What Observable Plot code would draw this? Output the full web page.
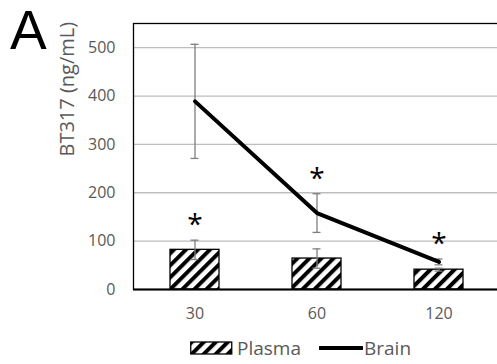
<!DOCTYPE html>
<html>
<head>
<meta charset="utf-8">
<script src="https://cdn.jsdelivr.net/npm/d3@7"></script>
<script src="https://cdn.jsdelivr.net/npm/@observablehq/plot@0.6"></script>
<style>
  html, body { margin: 0; padding: 0; background: #fff; }
  body { width: 497px; height: 364px; overflow: hidden; position: relative; font-family: "Open Sans", sans-serif; }
  #panel { position: absolute; left: 10px; top: 0px; font-family: "Liberation Sans", Arial, sans-serif; font-size: 55px; color: #000; line-height: 1.117; }
  #chart { position: absolute; left: 0; top: 0; width: 510px; }
  #chart svg { max-width: none !important; width: 510px !important; height: 330px !important; }
  #legend { position: absolute; left: 190px; top: 334px; height: 28px; display: flex; align-items: center; color: #595959; font-size: 19px; white-space: nowrap; }
  #legend .item { display: flex; align-items: center; }
  #legend svg { display: block; }
</style>
</head>
<body>
<div id="panel">A</div>
<div id="chart"></div>
<div id="legend"></div>
<script>
const times = ["30", "60", "120"];
const plasmaMean = [82, 64, 41];
const plasmaErr = [20, 20, 3];
const brainMean = [389, 158, 57];
const brainErr = [118, 40, 6];
const starSeries = ["Plasma", "Brain", "Brain"];
const yTicks = [0, 100, 200, 300, 400, 500];
const yLabel = "BT317 (ng/mL)";
const seriesNames = ["Plasma", "Brain"];

const plasma = times.map((t, i) => ({time: t, value: plasmaMean[i], err: plasmaErr[i]}));
const brain = times.map((t, i) => ({time: t, value: brainMean[i], err: brainErr[i]}));
const stars = times.map((t, i) => {
  const s = starSeries[i] === "Plasma" ? plasma[i] : brain[i];
  return {time: t, top: s.value + s.err};
});

const defs = () => {
  const d = d3.create("svg:defs");
  const p = d.append("pattern").attr("id", "stripes").attr("patternUnits", "userSpaceOnUse")
    .attr("width", 8.5).attr("height", 8.5).attr("patternTransform", "rotate(45)");
  p.append("rect").attr("width", 8.5).attr("height", 8.5).attr("fill", "white");
  p.append("rect").attr("width", 4).attr("height", 8.5).attr("fill", "black");
  return d.node();
};

const grey = "#595959";
const errColor = "#7f7f7f";

const chart = Plot.plot({
  width: 510,
  height: 330,
  marginLeft: 133,
  marginRight: 10,
  marginTop: 23,
  marginBottom: 41,
  style: {fontFamily: "'Open Sans', sans-serif", fontSize: "16px", overflow: "visible"},
  x: {domain: times, paddingInner: 0.6, paddingOuter: 0.3, label: null},
  y: {domain: [0, 550], label: null},
  marks: [
    defs,
    Plot.gridY(yTicks.filter(d => d > 0), {stroke: "#bdbdbd", strokeOpacity: 1, strokeWidth: 1.3}),
    Plot.barY(plasma, {x: "time", y: "value", fill: "url(#stripes)", stroke: "black", strokeWidth: 1.3}),
    Plot.ruleX(plasma, {x: "time", y1: d => d.value - d.err, y2: d => d.value + d.err, stroke: errColor, strokeWidth: 1.3}),
    Plot.tickY(plasma, {x: "time", y: d => d.value - d.err, stroke: errColor, strokeWidth: 1.3, insetLeft: 20.5, insetRight: 20.5}),
    Plot.tickY(plasma, {x: "time", y: d => d.value + d.err, stroke: errColor, strokeWidth: 1.3, insetLeft: 20.5, insetRight: 20.5}),
    Plot.ruleX(brain, {x: "time", y1: d => d.value - d.err, y2: d => d.value + d.err, stroke: errColor, strokeWidth: 1.3}),
    Plot.tickY(brain, {x: "time", y: d => d.value - d.err, stroke: errColor, strokeWidth: 1.3, insetLeft: 20.5, insetRight: 20.5}),
    Plot.tickY(brain, {x: "time", y: d => d.value + d.err, stroke: errColor, strokeWidth: 1.3, insetLeft: 20.5, insetRight: 20.5}),
    Plot.lineY(brain, {x: "time", y: "value", stroke: "black", strokeWidth: 4, strokeLinejoin: "round"}),
    Plot.text(stars, {x: "time", y: "top", text: () => "*", fontSize: 28, dy: -15, fill: "black"}),
    Plot.frame({stroke: "black", strokeWidth: 1.3}),
    Plot.ruleY([0], {stroke: "black", strokeWidth: 2}),
    Plot.axisY({ticks: yTicks, tickSize: 0, tickPadding: 18, fill: grey, fontSize: 16, label: null}),
    Plot.axisX({tickSize: 0, tickPadding: 18, fill: grey, fontSize: 16, label: null}),
    Plot.text([yLabel], {frameAnchor: "left", rotate: -90, dx: -66, fill: grey, fontSize: 20, text: d => d})
  ]
});
document.getElementById("chart").appendChild(chart);

// legend
const legend = d3.select("#legend");
const it1 = legend.append("div").attr("class", "item");
const s1 = it1.append("svg").attr("width", 44).attr("height", 14);
s1.append("defs").append("pattern").attr("id", "lstripes").attr("patternUnits", "userSpaceOnUse")
  .attr("width", 8.5).attr("height", 8.5).attr("patternTransform", "rotate(45)")
  .call(p => {
    p.append("rect").attr("width", 8.5).attr("height", 8.5).attr("fill", "white");
    p.append("rect").attr("width", 4).attr("height", 8.5).attr("fill", "black");
  });
s1.append("rect").attr("x", 0.75).attr("y", 1).attr("width", 41).attr("height", 12)
  .attr("fill", "url(#lstripes)").attr("stroke", "black").attr("stroke-width", 1.3);
it1.append("span").text(seriesNames[0]).style("margin-left", "3px");
const it2 = legend.append("div").attr("class", "item").style("margin-left", "18px");
const s2 = it2.append("svg").attr("width", 44).attr("height", 14);
s2.append("line").attr("x1", 1).attr("x2", 43).attr("y1", 7).attr("y2", 7)
  .attr("stroke", "black").attr("stroke-width", 4).attr("stroke-linecap", "round");
it2.append("span").text(seriesNames[1]).style("margin-left", "1px");
</script>
</body>
</html>
